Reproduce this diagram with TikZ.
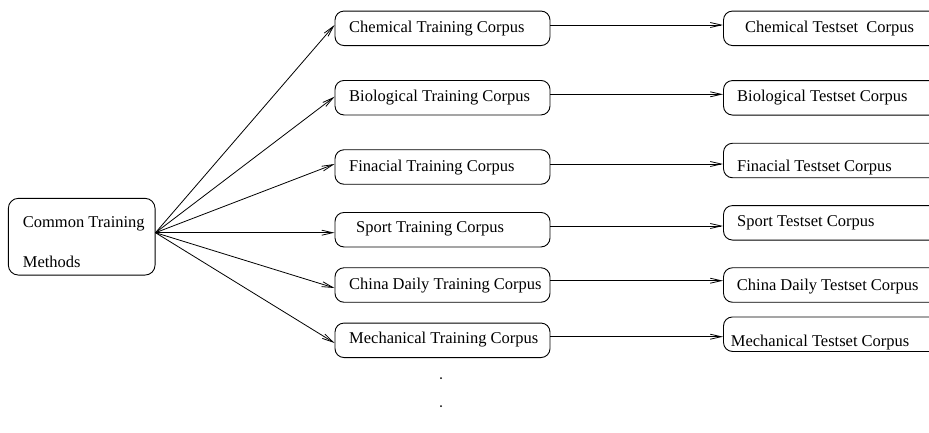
\documentclass[tikz,border=0pt]{standalone}
\usepackage{fontspec}
\setmainfont{Liberation Serif}
\usetikzlibrary{arrows.meta}
\begin{document}
\begin{tikzpicture}[x=1pt,y=-1pt,
 box/.style={draw, rounded corners=9pt, line width=0.9pt, minimum width=215pt, minimum height=34.5pt, inner sep=0pt},
 rbox/.style={box, minimum width=240pt},
 lbl/.style={anchor=base west, inner sep=0pt, font=\fontsize{16.5}{18}\selectfont},
 arr/.style={line width=0.8pt, -{Straight Barb[length=11pt,width=5pt]}},
 dot/.style={circle, fill, inner sep=0pt, minimum size=2pt}]
\clip (0,0) rectangle (929,432);
\fill[white] (0,0) rectangle (929,432);
% left box
\node[draw, rounded corners=10pt, line width=0.9pt, minimum width=146.7pt, minimum height=76.7pt, inner sep=0pt] (L) at (81.7,236.7) {};
\node[lbl] (Lt1) at (22.7,227.2) {Common Training};
\node[lbl] (Lt2) at (22.7,267.2) {Methods};
% middle boxes
\node[box] (m1) at (442.5,28.3) {};
\node[box] (m2) at (442.5,97.7) {};
\node[box] (m3) at (442.5,167) {};
\node[box] (m4) at (442.5,229.7) {};
\node[box] (m5) at (442.5,285) {};
\node[box] (m6) at (442.5,340.3) {};
\node[lbl] (m1t) at (349,32.5) {Chemical Training Corpus};
\node[lbl] (m2t) at (349,101.5) {Biological Training Corpus};
\node[lbl] (m3t) at (349,171.2) {Finacial Training Corpus};
\node[lbl] (m4t) at (356,232.5) {Sport Training Corpus};
\node[lbl] (m5t) at (349,289.5) {China Daily Training Corpus};
\node[lbl] (m6t) at (349,343.8) {Mechanical Training Corpus};
% right boxes
\node[rbox] (r1) at (843.5,28.3) {};
\node[rbox] (r2) at (843.5,97.8) {};
\node[rbox] (r3) at (843.5,160.5) {};
\node[rbox] (r4) at (843.5,222.8) {};
\node[rbox] (r5) at (843.5,285) {};
\node[rbox] (r6) at (843.5,334.2) {};
\node[lbl] (r1t) at (745,32.8) {Chemical Testset\ \ Corpus};
\node[lbl] (r2t) at (737,101.2) {Biological Testset Corpus};
\node[lbl] (r3t) at (737,171.5) {Finacial Testset Corpus};
\node[lbl] (r4t) at (737,226.5) {Sport Testset Corpus};
\node[lbl] (r5t) at (736.7,290.5) {China Daily Testset Corpus};
\node[lbl] (r6t) at (730.7,346.2) {Mechanical Testset Corpus};
% fan arrows
\draw[arr] ([yshift=4pt]L.east) -- ([yshift=3.3pt]m1.west);
\draw[arr] ([yshift=4pt]L.east) -- ([yshift=1pt]m2.west);
\draw[arr] ([yshift=4pt]L.east) -- ([yshift=3pt]m3.west);
\draw[arr] ([yshift=4pt]L.east) -- ([yshift=-3pt]m4.west);
\draw[arr] ([yshift=4pt]L.east) -- ([yshift=-3pt]m5.west);
\draw[arr] ([yshift=4pt]L.east) -- ([yshift=-2.7pt]m6.west);
% horizontal arrows
\draw[arr] ([yshift=3.3pt]m1.east) -- ([yshift=3.3pt]r1.west);
\draw[arr] ([yshift=3.4pt]m2.east) -- ([yshift=3.5pt]r2.west);
\draw[arr] ([yshift=3pt]m3.east) -- ([yshift=-3.5pt]r3.west);
\draw[arr] ([yshift=3.7pt]m4.east) -- ([yshift=-3.2pt]r4.west);
\draw[arr] ([yshift=4.3pt]m5.east) -- ([yshift=4.3pt]r5.west);
\draw[arr] ([yshift=3.6pt]m6.east) -- ([yshift=-2.5pt]r6.west);
% dots
\node[dot] (d1) at (441,378) {};
\node[dot] (d2) at (441,406) {};
\end{tikzpicture}
\end{document}
